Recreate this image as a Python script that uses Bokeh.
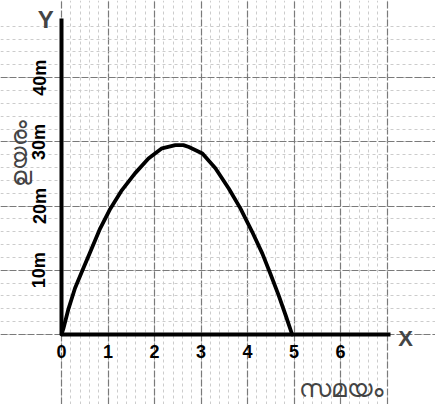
from bokeh.plotting import figure
from bokeh.models import Range1d, FixedTicker, SingleIntervalTicker, Grid, Label, LinearAxis
from bokeh.embed import file_html
from bokeh.resources import INLINE

# data
time_s = [0, 0.04, 0.15, 0.29, 0.44, 0.62, 0.83, 1.05, 1.30, 1.58, 1.87, 2.16, 2.45, 2.62,
          2.74, 3.03, 3.31, 3.60, 3.85, 4.10, 4.32, 4.49, 4.67, 4.82, 4.96]
height_m = [0, 0.9, 4.0, 7.2, 9.8, 12.9, 16.5, 19.6, 22.5, 25.1, 27.4, 29.0, 29.5, 29.5,
            29.2, 28.2, 25.9, 22.7, 19.6, 16.0, 12.6, 9.5, 6.1, 3.0, 0]
x_ticks = [0, 1, 2, 3, 4, 5, 6]
y_ticks = [10, 20, 30, 40]
y_tick_labels = {10: "10m", 20: "20m", 30: "30m", 40: "40m"}
x_title = "സമയം"
y_title = "ഉയരം"

FONT = "Liberation Sans"

p = figure(width=435, height=404, x_range=Range1d(-1.312, 8.043), y_range=Range1d(-10.90, 52.02),
           output_backend="svg", toolbar_location=None, min_border=0,
           x_axis_type=None, y_axis_type=None)
p.outline_line_color = None
p.background_fill_color = "white"
p.border_fill_color = "white"

# graph-paper grid
gx = Grid(dimension=0, ticker=SingleIntervalTicker(interval=1, num_minor_ticks=5),
          grid_line_color="#7a7a7a", grid_line_width=1.2, grid_line_dash="7 2",
          minor_grid_line_color="#cccccc", minor_grid_line_dash="3 3", minor_grid_line_width=1)
gy = Grid(dimension=1, ticker=SingleIntervalTicker(interval=10, num_minor_ticks=5),
          grid_line_color="#7a7a7a", grid_line_width=1.2, grid_line_dash="7 2",
          minor_grid_line_color="#cccccc", minor_grid_line_dash="3 3", minor_grid_line_width=1)
p.add_layout(gx)
p.add_layout(gy)

xaxis = LinearAxis(ticker=FixedTicker(ticks=x_ticks), fixed_location=0, bounds=(0, 7.08))
yaxis = LinearAxis(ticker=FixedTicker(ticks=y_ticks), fixed_location=0, bounds=(0, 49.2),
                   major_label_overrides=y_tick_labels)
for ax in (xaxis, yaxis):
    ax.axis_line_color = "black"
    ax.axis_line_width = 4
    ax.major_tick_line_color = None
    ax.minor_tick_line_color = None
    ax.major_tick_out = 0
    ax.major_tick_in = 0
    ax.major_label_text_font = FONT
    ax.major_label_text_font_style = "bold"
    ax.major_label_text_font_size = "18px"
    ax.major_label_text_color = "black"
xaxis.major_label_standoff = 10
yaxis.major_label_standoff = 12
yaxis.major_label_orientation = "vertical"
p.add_layout(xaxis, "below")
p.add_layout(yaxis, "left")

p.line(time_s, height_m, line_color="black", line_width=3.8, line_join="round", line_cap="round")

p.add_layout(Label(x=-0.34, y=49.1, text="Y", text_font=FONT, text_font_style="bold",
                   text_font_size="24px", text_align="center", text_baseline="middle"))
p.add_layout(Label(x=7.40, y=-0.6, text="X", text_font=FONT, text_font_style="bold",
                   text_font_size="22px", text_align="center", text_baseline="middle"))
p.add_layout(Label(x=6.0, y=-8.1, text=x_title, text_font="Noto Sans", text_font_size="25px",
                   text_align="center", text_baseline="middle"))
p.add_layout(Label(x=-0.93, y=28.2, text=y_title, text_font="Noto Sans", text_font_size="23px",
                   angle=1.5708, text_align="center", text_baseline="middle"))

open("out.html", "w").write(file_html(p, INLINE))
